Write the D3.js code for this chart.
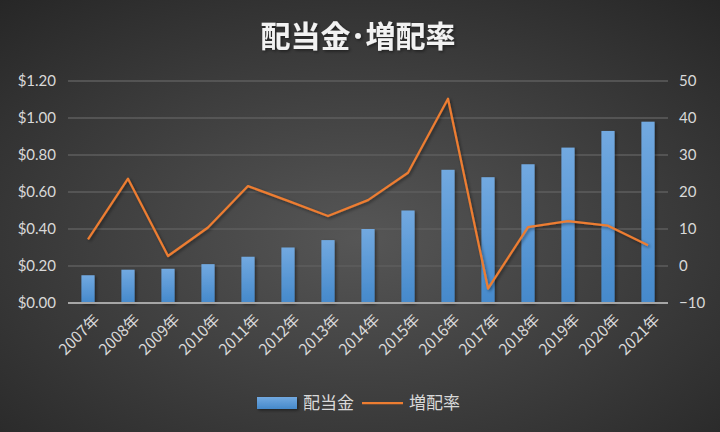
<!DOCTYPE html>
<html>
<head>
<meta charset="utf-8">
<script src="https://cdn.jsdelivr.net/npm/d3@7"></script>
<style>
  body { margin: 0; background: #333; }
  svg { display: block; }
</style>
</head>
<body>
<div id="chart"></div>
<script>
    // data
    var years = ["2007年", "2008年", "2009年", "2010年", "2011年", "2012年", "2013年", "2014年",
        "2015年", "2016年", "2017年", "2018年", "2019年", "2020年", "2021年"];
    var dividend = [0.15, 0.18, 0.185, 0.21, 0.25, 0.30, 0.34, 0.40, 0.50, 0.72, 0.68, 0.75, 0.84, 0.93, 0.98];
    var growth = [7.2, 23.6, 2.7, 10.4, 21.6, 17.6, 13.5, 17.8, 25.2, 45.2, -6.1, 10.5, 12.1, 10.9, 5.6];
    var leftTicks = [0, 0.2, 0.4, 0.6, 0.8, 1.0, 1.2];
    var rightTicks = [-10, 0, 10, 20, 30, 40, 50];

    var width = 720, height = 432;
    var margin = {top: 81, right: 50, bottom: 129, left: 68};

    var svg = d3.select("#chart").append("svg")
        .attr("width", width)
        .attr("height", height);

    var defs = svg.append("defs");
    var bg = defs.append("radialGradient").attr("id", "bg")
        .attr("cx", "50%").attr("cy", "55%").attr("r", "75%");
    bg.append("stop").attr("offset", "0%").attr("stop-color", "#565656");
    bg.append("stop").attr("offset", "100%").attr("stop-color", "#262626");

    var barGrad = defs.append("linearGradient").attr("id", "bar")
        .attr("x1", 0).attr("y1", 0).attr("x2", 0).attr("y2", 1);
    barGrad.append("stop").attr("offset", "0%").attr("stop-color", "#72a9e0");
    barGrad.append("stop").attr("offset", "100%").attr("stop-color", "#4589cb");

    var shadow = defs.append("filter").attr("id", "shadow")
        .attr("x", "-30%").attr("y", "-30%").attr("width", "160%").attr("height", "160%");
    shadow.append("feDropShadow").attr("dx", 1.5).attr("dy", 1.5)
        .attr("stdDeviation", 1.5).attr("flood-color", "#000").attr("flood-opacity", 0.45);

    svg.append("rect").attr("width", width).attr("height", height).attr("fill", "url(#bg)");

    var x = d3.scaleBand()
        .domain(years)
        .range([margin.left, width - margin.right - 2])
        .paddingInner(0.67)
        .paddingOuter(0.335);

    var yL = d3.scaleLinear().domain([0, 1.2]).range([height - margin.bottom, margin.top]);
    var yR = d3.scaleLinear().domain([-10, 50]).range([height - margin.bottom, margin.top]);

    var numFont = "Lato, 'Open Sans', sans-serif";
    var jpFont = "'Noto Sans CJK JP', sans-serif";

    // gridlines
    svg.append("g").selectAll("line")
        .data(leftTicks.slice(1))
        .join("line")
        .attr("x1", margin.left).attr("x2", width - margin.right - 2)
        .attr("y1", function(d) { return yL(d); })
        .attr("y2", function(d) { return yL(d); })
        .attr("stroke", "#5e5e5e")
        .attr("stroke-width", 1.5);

    // left axis
    var leftAxis = svg.append("g")
        .attr("transform", "translate(" + margin.left + ",0)")
        .call(d3.axisLeft(yL).tickValues(leftTicks).tickSize(0).tickPadding(12)
            .tickFormat(function(d) { return "$" + d3.format(".2f")(d); }));
    leftAxis.select(".domain").remove();
    leftAxis.selectAll("text")
        .attr("fill", "#d9d9d9")
        .style("font-family", numFont)
        .style("font-size", "15px");

    // right axis
    var rightAxis = svg.append("g")
        .attr("transform", "translate(" + (width - margin.right - 2) + ",0)")
        .call(d3.axisRight(yR).tickValues(rightTicks).tickSize(0).tickPadding(11));
    rightAxis.select(".domain").remove();
    rightAxis.selectAll("text")
        .attr("fill", "#d9d9d9")
        .style("font-family", numFont)
        .style("font-size", "15px");

    // bars
    svg.append("g").selectAll("rect")
        .data(dividend)
        .join("rect")
        .attr("x", function(d, i) { return x(years[i]); })
        .attr("width", x.bandwidth())
        .attr("y", function(d) { return yL(d); })
        .attr("height", function(d) { return yL(0) - yL(d); })
        .attr("fill", "url(#bar)")
        .attr("filter", "url(#shadow)");

    // baseline
    svg.append("line")
        .attr("x1", margin.left).attr("x2", width - margin.right - 2)
        .attr("y1", yL(0)).attr("y2", yL(0))
        .attr("stroke", "#a6a6a6")
        .attr("stroke-width", 2);

    // x labels
    var xAxis = svg.append("g")
        .attr("transform", "translate(0," + yL(0) + ")")
        .call(d3.axisBottom(x).tickSize(0).tickPadding(0));
    xAxis.select(".domain").remove();
    xAxis.selectAll("text")
        .attr("fill", "#d9d9d9")
        .style("font-family", jpFont)
        .style("font-size", "15.5px")
        .attr("text-anchor", "end")
        .attr("transform", "translate(5,10) rotate(-45)")
        .attr("dy", "0.7em")
        .attr("y", 0);

    // growth line
    var line = d3.line()
        .x(function(d, i) { return x(years[i]) + x.bandwidth() / 2; })
        .y(function(d) { return yR(d); });

    svg.append("path")
        .datum(growth)
        .attr("d", line)
        .attr("fill", "none")
        .attr("stroke", "#ed7d31")
        .attr("stroke-width", 2.25)
        .attr("stroke-linejoin", "round")
        .attr("filter", "url(#shadow)");

    // title
    svg.append("text")
        .attr("x", 358).attr("y", 47)
        .attr("text-anchor", "middle")
        .attr("fill", "#f2f2f2")
        .attr("filter", "url(#shadow)")
        .style("font-family", jpFont)
        .style("font-size", "30px")
        .style("font-weight", "bold")
        .text("配当金･増配率");

    // legend
    var legend = svg.append("g");
    legend.append("rect")
        .attr("x", 257).attr("y", 397).attr("width", 40).attr("height", 12)
        .attr("fill", "url(#bar)")
        .attr("filter", "url(#shadow)");
    legend.append("text")
        .attr("x", 303).attr("y", 409)
        .attr("fill", "#d9d9d9")
        .style("font-family", jpFont)
        .style("font-size", "17px")
        .text("配当金");
    legend.append("line")
        .attr("x1", 362).attr("x2", 403).attr("y1", 403).attr("y2", 403)
        .attr("stroke", "#ed7d31").attr("stroke-width", 2.25);
    legend.append("text")
        .attr("x", 409).attr("y", 409)
        .attr("fill", "#d9d9d9")
        .style("font-family", jpFont)
        .style("font-size", "17px")
        .text("増配率");
</script>
</body>
</html>
